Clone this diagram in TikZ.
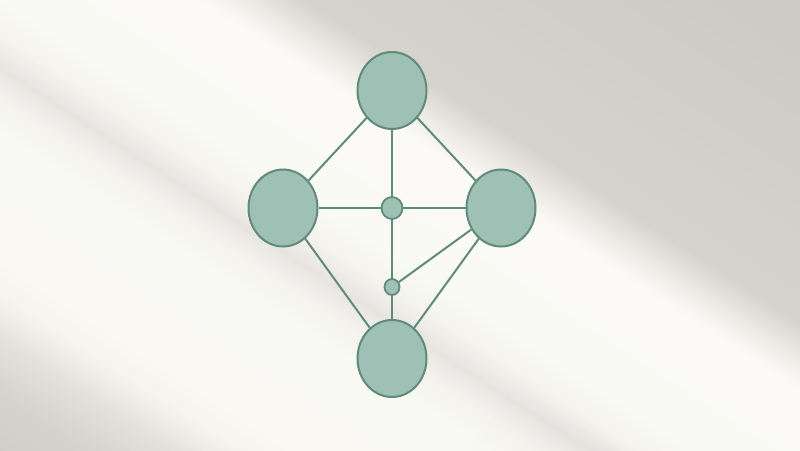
\documentclass[tikz,border=0pt]{standalone}
\usetikzlibrary{shapes.geometric}
\definecolor{nodefill}{HTML}{9FC0B4}
\definecolor{nodeline}{HTML}{5F8B7B}
\definecolor{s0}{HTML}{CFCBC6}
\definecolor{s1}{HTML}{D6D2CD}
\definecolor{s2}{HTML}{E4E1DC}
\definecolor{s3}{HTML}{F5F3EE}
\definecolor{s4}{HTML}{F9F8F3}
\definecolor{s5}{HTML}{F9F9F4}
\definecolor{s6}{HTML}{F3F2ED}
\definecolor{s7}{HTML}{E7E5E1}
\definecolor{s8}{HTML}{F4F3EE}
\definecolor{s9}{HTML}{FAFAF5}
\definecolor{s10}{HTML}{FBFAF6}
\definecolor{s11}{HTML}{EDEAE6}
\definecolor{s12}{HTML}{D6D2CD}
\definecolor{s13}{HTML}{CCC8C3}
\definecolor{shadetone}{HTML}{C8C4BF}
\tikzset{
  bignode/.style={ellipse, draw=nodeline, fill=nodefill, line width=2pt, inner sep=0pt, minimum width=69pt, minimum height=77pt},
  midnode/.style={ellipse, draw=nodeline, fill=nodefill, line width=1.8pt, inner sep=0pt, minimum width=21pt, minimum height=22pt},
  smallnode/.style={ellipse, draw=nodeline, fill=nodefill, line width=1.8pt, inner sep=0pt, minimum width=15pt, minimum height=16pt},
  link/.style={draw=nodeline, line width=2pt}
}
\begin{document}
\begin{tikzpicture}[x=1pt,y=1pt]
\useasboundingbox (0,0) rectangle (800,-450);
\begin{scope}
\clip (0,0) rectangle (800,-450);
\fill[s9] (0,0) rectangle (800,-450);
\begin{scope}[rotate=-33]
\foreach \ta/\tb/\ca/\cb in {-400/-330/s0/s1, -330/-285/s1/s2, -285/-250/s2/s3, -250/-220/s3/s4, -220/-110/s4/s5, -110/-80/s5/s6, -80/-57/s6/s7, -57/-30/s7/s8, -30/0/s8/s9, 0/110/s9/s10, 110/135/s10/s11, 135/165/s11/s12, 165/460/s12/s13}{
  \foreach \k in {0,...,11}{
    \pgfmathsetmacro\pa{\ta+(\tb-\ta)*\k/12}
    \pgfmathsetmacro\pb{\ta+(\tb-\ta)*(\k+1)/12+1}
    \pgfmathsetmacro\pc{100-(\k+0.5)*100/12}
    \fill[\ca!\pc!\cb] (-30,\pa) rectangle (960,\pb);
  }
}
\foreach \k in {0,...,15}{
  \pgfmathsetmacro\sa{640+\k*20}
  \pgfmathsetmacro\sb{\sa+20}
  \pgfmathsetmacro\op{0.012*(\k+0.5)}
  \fill[shadetone, opacity=\op] (\sa,-400) rectangle (\sb,-40);
}
\end{scope}
\end{scope}
\node[bignode] (top) at (392,-90.5) {};
\node[bignode] (left) at (283,-208) {};
\node[bignode] (right) at (501,-208) {};
\node[bignode] (bottom) at (392,-358.5) {};
\node[midnode] (c1) at (392,-208) {};
\node[smallnode] (c2) at (392,-287) {};
\path[link] (top) -- (left);
\path[link] (top) -- (right);
\path[link] (top) -- (c1);
\path[link] (c1) -- (c2);
\path[link] (c2) -- (bottom);
\path[link] (left) -- (c1);
\path[link] (c1) -- (right);
\path[link] (left) -- (bottom);
\path[link] (right) -- (bottom);
\path[link] (right) -- (c2);
\end{tikzpicture}
\end{document}
